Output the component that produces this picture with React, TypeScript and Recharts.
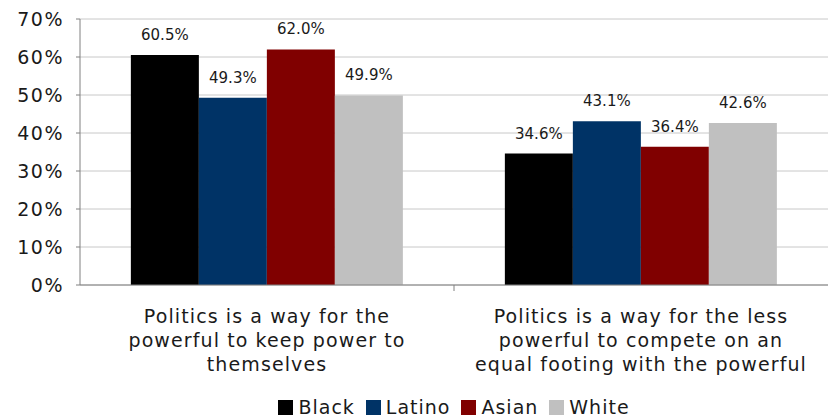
import React from 'react';
import { BarChart, Bar, XAxis, YAxis, CartesianGrid, Legend, LabelList } from 'recharts';

const categories = [
  'Politics is a way for the\npowerful to keep power to\nthemselves',
  'Politics is a way for the less\npowerful to compete on an\nequal footing with the powerful',
];
const blackValues = [60.5, 34.6];
const latinoValues = [49.3, 43.1];
const asianValues = [62.0, 36.4];
const whiteValues = [49.9, 42.6];
const yTicks = [0, 10, 20, 30, 40, 50, 60, 70];

const series = [
  { key: 'Black', color: '#000000' },
  { key: 'Latino', color: '#003366' },
  { key: 'Asian', color: '#800000' },
  { key: 'White', color: '#C0C0C0' },
];

const data = categories.map((name, i) => ({
  name,
  Black: blackValues[i],
  Latino: latinoValues[i],
  Asian: asianValues[i],
  White: whiteValues[i],
}));

const font = 'DejaVu Sans, Verdana, sans-serif';
const ink = '#1a1a1a';

// multi-line category label, plus the Excel-style tick between the two groups
const CategoryTick = (props: any) => {
  const { x, y, payload, index } = props;
  const lines = String(payload.value).split('\n');
  const half = 374 / 2;
  return (
    <g>
      {index === 0 && <line x1={x + half} x2={x + half} y1={y - 8} y2={y - 2} stroke="#808080" />}
      <text x={x} y={y + 30} textAnchor="middle" fontFamily={font} fontSize={19} letterSpacing={1.1} fill={ink}>
        {lines.map((l, i) => (
          <tspan key={i} x={x} dy={i === 0 ? 0 : 24}>
            {l}
          </tspan>
        ))}
      </text>
    </g>
  );
};

const LegendContent = () => (
  <div
    style={{
      height: 24,
      display: 'flex',
      alignItems: 'center',
      justifyContent: 'center',
      paddingLeft: 84,
      fontFamily: font,
      fontSize: 19,
      letterSpacing: 1,
      color: ink,
    }}
  >
    {series.map((s) => (
      <span key={s.key} style={{ display: 'flex', alignItems: 'center', marginRight: 11 }}>
        <span style={{ width: 15, height: 15, background: s.color, display: 'inline-block', marginRight: 5 }} />
        {s.key}
      </span>
    ))}
  </div>
);

export default function App() {
  return (
    <div style={{ position: 'absolute', left: 0, top: 0, width: 835, height: 419, background: '#fff' }}>
      <BarChart
        width={835}
        height={419}
        data={data}
        margin={{ top: 19, right: 7, bottom: 0, left: 0 }}
        barCategoryGap="13.6%"
        barGap={0}
      >
        <CartesianGrid vertical={false} stroke="#c8c8c8" />
        <XAxis
          dataKey="name"
          tickLine={false}
          axisLine={{ stroke: '#808080' }}
          interval={0}
          tickSize={6}
          tickMargin={2}
          height={110}
          tick={<CategoryTick />}
        />
        <YAxis
          domain={[0, 70]}
          ticks={yTicks}
          width={80}
          tickFormatter={(v: number) => `${v}%`}
          axisLine={{ stroke: '#808080' }}
          tickLine={{ stroke: '#808080' }}
          tickSize={4}
          tickMargin={12}
          tick={{ fontFamily: font, fontSize: 19, letterSpacing: 1.5, fill: ink }}
        />
        <Legend verticalAlign="bottom" content={<LegendContent />} wrapperStyle={{ left: 0, width: 835 }} />
        {series.map((s) => (
          <Bar key={s.key} dataKey={s.key} fill={s.color} isAnimationActive={false}>
            <LabelList
              dataKey={s.key}
              position="top"
              offset={15}
              formatter={(v: number) => `${v.toFixed(1)}%`}
              style={{ fontFamily: font, fontSize: 15, fill: ink }}
            />
          </Bar>
        ))}
      </BarChart>
    </div>
  );
}
